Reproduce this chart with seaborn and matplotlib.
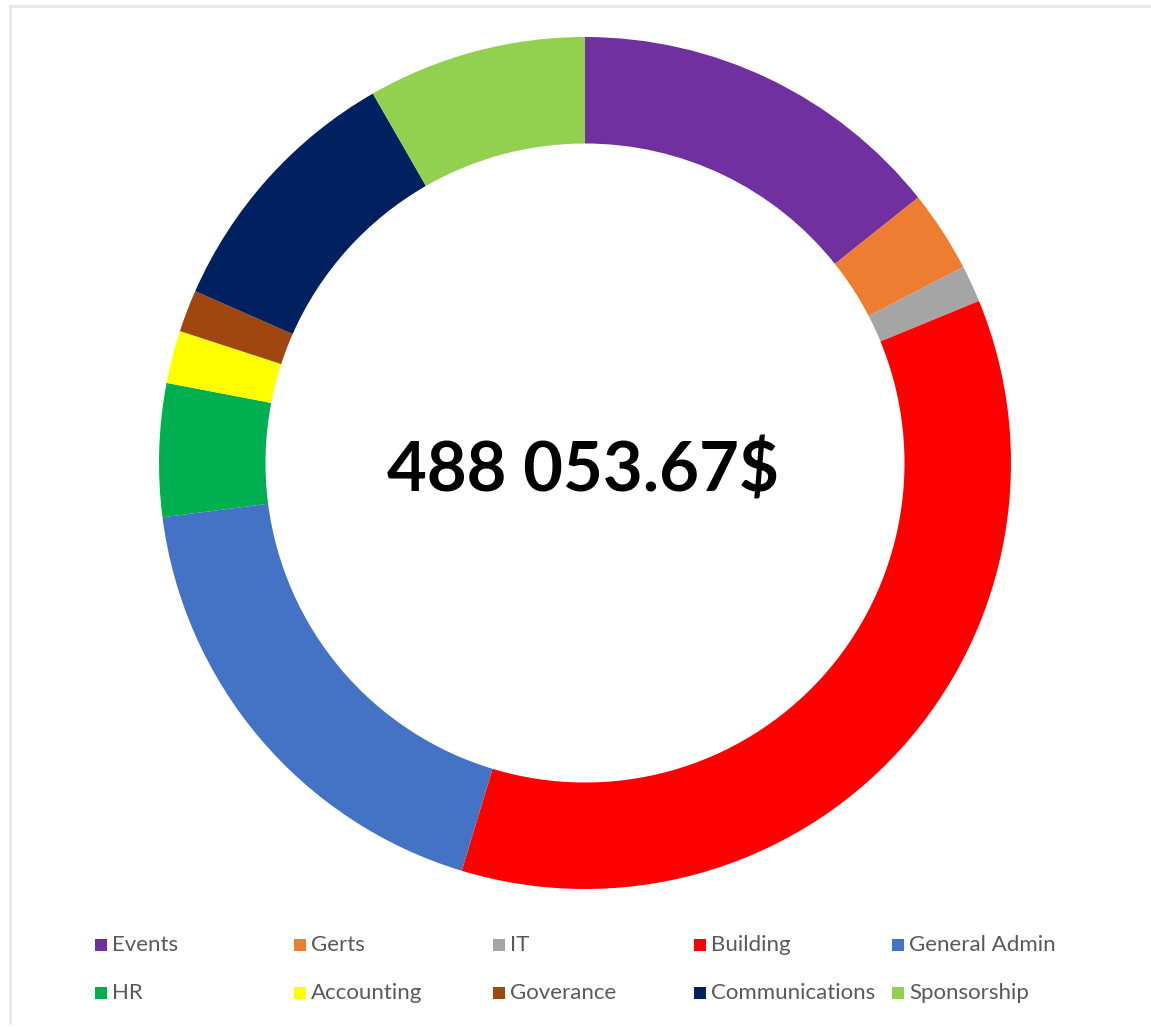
import matplotlib
matplotlib.use("Agg")
import matplotlib.pyplot as plt
import seaborn as sns
from matplotlib.patches import Rectangle
from matplotlib.lines import Line2D

# data (share of total, %)
categories = ["Events", "Gerts", "IT", "Building", "General Admin",
              "HR", "Accounting", "Goverance", "Communications", "Sponsorship"]
shares = [14.3, 3.1, 1.4, 35.9, 18.3, 5.05, 2.0, 1.6, 10.1, 8.3]
total_label = "488 053.67$"

colors = ["#7030A0", "#ED7D31", "#A5A5A5", "#FF0000", "#4472C4",
          "#00B050", "#FFFF00", "#A0470F", "#002060", "#92D050"]

sns.set_theme(style="white")
plt.rcParams['font.family'] = ['Lato', 'DejaVu Sans']

W, H = 1151, 1027
fig = plt.figure(figsize=(W / 100, H / 100), dpi=100)

# donut axes: centre (585, 463) px, radius 426 px
cx, cy, r = 585, 463, 426
ax = fig.add_axes([(cx - r) / W, (H - cy - r) / H, 2 * r / W, 2 * r / H])
ax.pie(shares, colors=colors, startangle=90, counterclock=False, radius=1.0,
       wedgeprops=dict(width=0.25, edgecolor='none'))
ax.set_xlim(-1, 1)
ax.set_ylim(-1, 1)
ax.set_aspect('equal')
ax.axis('off')

# total in the middle
fig.text(583 / W, 1 - 472 / H, total_label, ha='center', va='center',
         fontsize=49.5, fontweight='bold', color='black')

# legend laid out as a 5 x 2 grid
col_x = [95, 294, 493, 694, 892]
row_y = [945, 993]
for i, (name, c) in enumerate(zip(categories, colors)):
    x0 = col_x[i % 5]
    y0 = row_y[i // 5]
    fig.patches.append(Rectangle((x0 / W, 1 - (y0 + 6) / H), 12 / W, 12 / H,
                                 transform=fig.transFigure, facecolor=c,
                                 edgecolor='none'))
    fig.text((x0 + 17) / W, 1 - y0 / H, name, ha='left', va='center',
             fontsize=16, color='#595959')

# faint frame at the top and left
fig.lines.append(Line2D([10 / W, 1], [1 - 6 / H, 1 - 6 / H],
                        transform=fig.transFigure, color='#e6e6ef', lw=2))
fig.lines.append(Line2D([10 / W, 10 / W], [1 - 6 / H, 1 - 1023 / H],
                        transform=fig.transFigure, color='#e6e6ef', lw=2))

fig.savefig("out.png", dpi=100, facecolor='white')
